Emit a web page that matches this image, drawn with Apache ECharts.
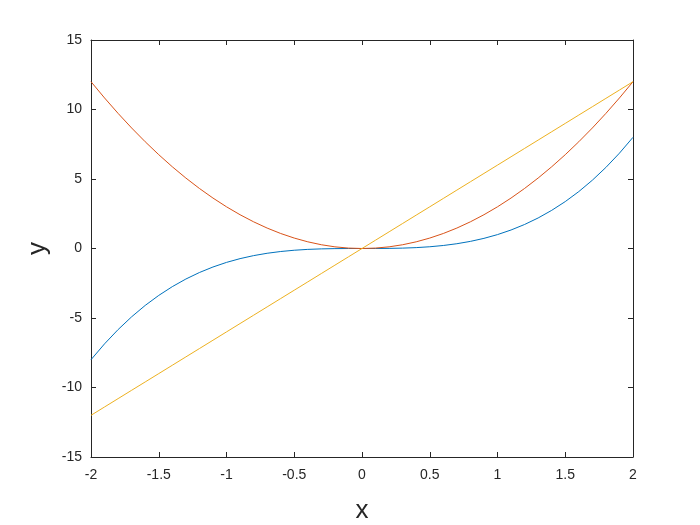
<!DOCTYPE html>
<html><head><meta charset="utf-8">
<script src="https://cdn.jsdelivr.net/npm/echarts@6/dist/echarts.min.js"></script>
<style>html,body{margin:0;padding:0;background:#fff}#c{width:700px;height:525px}</style>
</head><body><div id="c"></div>
<script>
var xs = [-2.0,-1.9,-1.8,-1.7,-1.6,-1.5,-1.4,-1.3,-1.2,-1.1,-1.0,-0.9,-0.8,-0.7,-0.6,-0.5,-0.4,-0.3,-0.2,-0.1,0,0.1,0.2,0.3,0.4,0.5,0.6,0.7,0.8,0.9,1.0,1.1,1.2,1.3,1.4,1.5,1.6,1.7,1.8,1.9,2.0];
var cubic = [-8,-6.859,-5.832,-4.913,-4.096,-3.375,-2.744,-2.197,-1.728,-1.331,-1,-0.729,-0.512,-0.343,-0.216,-0.125,-0.064,-0.027,-0.008,-0.001,0,0.001,0.008,0.027,0.064,0.125,0.216,0.343,0.512,0.729,1,1.331,1.728,2.197,2.744,3.375,4.096,4.913,5.832,6.859,8];
var quad = [12,10.83,9.72,8.67,7.68,6.75,5.88,5.07,4.32,3.63,3,2.43,1.92,1.47,1.08,0.75,0.48,0.27,0.12,0.03,0,0.03,0.12,0.27,0.48,0.75,1.08,1.47,1.92,2.43,3,3.63,4.32,5.07,5.88,6.75,7.68,8.67,9.72,10.83,12];
var lin = [-12,-11.4,-10.8,-10.2,-9.6,-9,-8.4,-7.8,-7.2,-6.6,-6,-5.4,-4.8,-4.2,-3.6,-3,-2.4,-1.8,-1.2,-0.6,0,0.6,1.2,1.8,2.4,3,3.6,4.2,4.8,5.4,6,6.6,7.2,7.8,8.4,9,9.6,10.2,10.8,11.4,12];
var xTicks = [-2,-1.5,-1,-0.5,0,0.5,1,1.5,2];
var yTicks = [-15,-10,-5,0,5,10,15];

function pairs(ys){ return xs.map(function(x,i){ return [x, ys[i]]; }); }
var axisCol = '#262626';
var font = 'Liberation Sans, Arial, Helvetica, sans-serif';
function xAx(pos, labels){
  return {type:'value', position:pos, min:xTicks[0], max:xTicks[xTicks.length-1], interval:0.5,
    axisLine:{show:true, onZero:false, lineStyle:{color:axisCol,width:1}},
    axisTick:{show:true, inside:true, length:5, lineStyle:{color:axisCol}},
    splitLine:{show:false},
    axisLabel:{show:labels, color:axisCol, fontSize:14, fontFamily:font, margin:11},
    name: labels ? 'x' : '', nameLocation:'middle', nameGap:41,
    nameTextStyle:{fontSize:26, color:axisCol, fontFamily:font}};
}
function yAx(pos, labels){
  return {type:'value', position:pos, min:yTicks[0], max:yTicks[yTicks.length-1], interval:5,
    axisLine:{show:true, onZero:false, lineStyle:{color:axisCol,width:1}},
    axisTick:{show:true, inside:true, length:5, lineStyle:{color:axisCol}},
    splitLine:{show:false},
    axisLabel:{show:labels, color:axisCol, fontSize:14, fontFamily:font, margin:9},
    name: labels ? 'y' : '', nameLocation:'middle', nameGap:35, nameRotate:90,
    nameTextStyle:{fontSize:26, color:axisCol, fontFamily:font}};
}
var chart = echarts.init(document.getElementById('c'), null, {renderer:'canvas'});
chart.setOption({
  animation:false,
  backgroundColor:'#fff',
  grid:{left:91, right:67, top:40, bottom:68, containLabel:false, outerBoundsMode:'none'},
  xAxis:[xAx('bottom', true), xAx('top', false)],
  yAxis:[yAx('left', true), yAx('right', false)],
  series:[
    {type:'line', data:pairs(cubic), showSymbol:false, smooth:false, lineStyle:{color:'#0072BD', width:1}, itemStyle:{color:'#0072BD'}},
    {type:'line', data:pairs(quad), showSymbol:false, smooth:false, lineStyle:{color:'#D95319', width:1}, itemStyle:{color:'#D95319'}},
    {type:'line', data:pairs(lin), showSymbol:false, smooth:false, lineStyle:{color:'#EDB120', width:1}, itemStyle:{color:'#EDB120'}}
  ]
});
</script></body></html>
